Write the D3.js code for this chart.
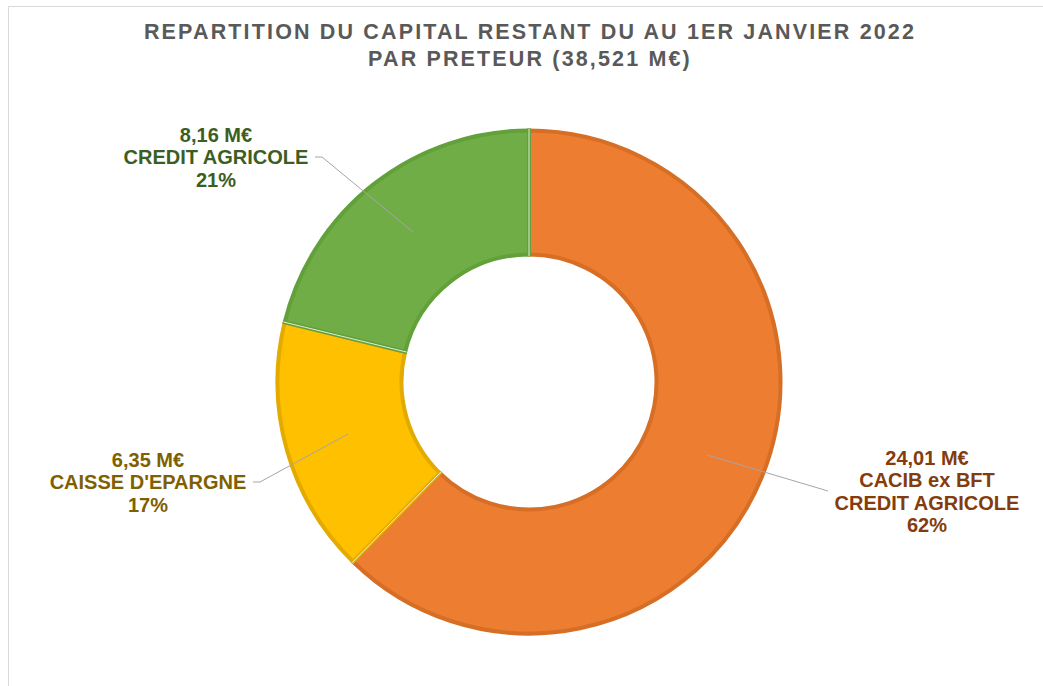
<!DOCTYPE html>
<html>
<head>
<meta charset="utf-8">
<script src="https://cdn.jsdelivr.net/npm/d3@7"></script>
<style>
  body { margin: 0; background: #fff; }
  #pie { width: 1043px; height: 686px; }
  text { font-family: "Liberation Sans", Arial, sans-serif; font-weight: bold; }
</style>
</head>
<body>
<div id="pie"></div>
<script>
const lenders = ["CACIB ex BFT\nCREDIT AGRICOLE", "CAISSE D'EPARGNE", "CREDIT AGRICOLE"]
const amounts = [24.01, 6.35, 8.16]
const amountLabels = ["24,01 M€", "6,35 M€", "8,16 M€"]
const percentLabels = ["62%", "17%", "21%"]
const titleLines = ["REPARTITION DU CAPITAL RESTANT DU AU 1ER JANVIER 2022", "PAR PRETEUR (38,521 M€)"]

const fills   = ["#ED7D31", "#FFC000", "#70AD47"]
const strokes = ["#D66E26", "#E3AA00", "#62A03A"]
const textCols = ["#843C0C", "#7F6000", "#3B5E23"]
// label anchors (centre x, first baseline y) and leader line points
const labelPos = [
    { x: 927, y: 465, leader: [[707, 455], [828, 491]] },
    { x: 148, y: 467, leader: [[348, 434], [260, 482], [253, 482]] },
    { x: 216, y: 142, leader: [[413, 232], [322, 157], [315, 157]] }
]

drawPieChart()
function drawPieChart(){
    const area = document.querySelector('#pie')
    const width = 1043, height = 686
    const svg = d3.select(area).append('svg')
        .attr('width', width)
        .attr('height', height)

    // chart frame
    svg.append('path')
        .attr('d', `M8.5,${height} L8.5,6.5 L${width},6.5`)
        .attr('fill', 'none')
        .attr('stroke', '#d9d9d9')
        .attr('stroke-width', 1)

    svg.selectAll('.title')
        .data(titleLines)
        .enter()
        .append('text')
        .attr('class', 'title')
        .attr('x', 530)
        .attr('y', (d, i) => 39 + i * 26.5)
        .attr('text-anchor', 'middle')
        .attr('font-size', 21.5)
        .attr('letter-spacing', 2.15)
        .attr('fill', '#595959')
        .text(d => d)

    const cx = 529, cy = 382, outer = 253, inner = 126
    const chart = svg.append('g').attr('transform', `translate(${cx},${cy})`)

    const pie = d3.pie().sort(null).value(d => d)
    const arcs = pie(amounts)

    chart.selectAll('path.slice')
        .data(arcs)
        .enter()
        .append('path')
        .attr('class', 'slice')
        .attr('d', d3.arc().innerRadius(inner + 1.5).outerRadius(outer - 1.5))
        .attr('fill', (d, i) => fills[i])
        .attr('stroke', (d, i) => strokes[i])
        .attr('stroke-width', 4)
        .attr('stroke-linejoin', 'miter')

    // thin white separators between slices
    chart.selectAll('line.sep')
        .data(arcs)
        .enter()
        .append('line')
        .attr('class', 'sep')
        .attr('x1', d => Math.sin(d.startAngle) * inner)
        .attr('y1', d => -Math.cos(d.startAngle) * inner)
        .attr('x2', d => Math.sin(d.startAngle) * outer)
        .attr('y2', d => -Math.cos(d.startAngle) * outer)
        .attr('stroke', '#fff')
        .attr('stroke-width', 0.8)

    // leader lines
    svg.selectAll('polyline.leader')
        .data(labelPos)
        .enter()
        .append('polyline')
        .attr('class', 'leader')
        .attr('points', d => d.leader.map(p => p.join(',')).join(' '))
        .attr('fill', 'none')
        .attr('stroke', '#a6a6a6')
        .attr('stroke-width', 1)

    // labels
    const labels = svg.selectAll('text.label')
        .data(amounts)
        .enter()
        .append('text')
        .attr('class', 'label')
        .attr('text-anchor', 'middle')
        .attr('font-size', 20)
        .attr('fill', (d, i) => textCols[i])

    labels.each(function(d, i){
        const lines = [amountLabels[i]].concat(lenders[i].split('\n'), [percentLabels[i]])
        d3.select(this).selectAll('tspan')
            .data(lines)
            .enter()
            .append('tspan')
            .attr('x', labelPos[i].x)
            .attr('y', (t, j) => labelPos[i].y + j * 22.4)
            .text(t => t)
    })
}
</script>
</body>
</html>
